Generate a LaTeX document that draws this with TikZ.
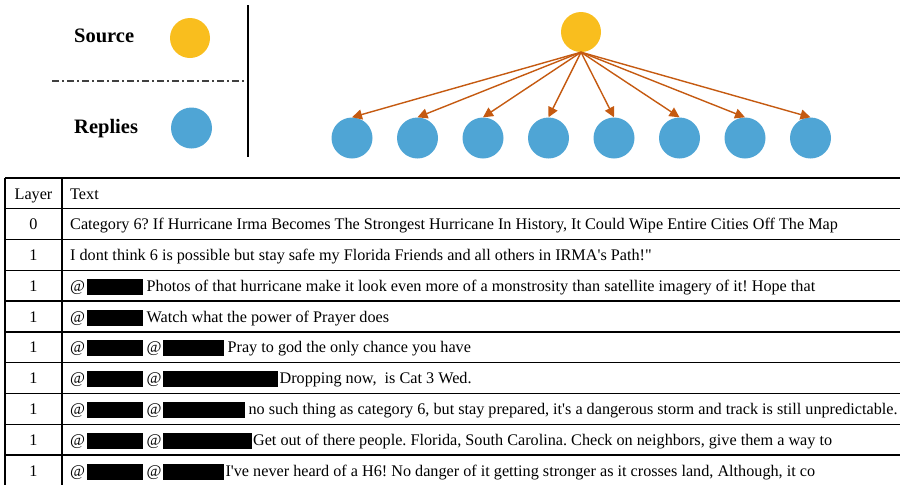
\documentclass[tikz,border=0pt]{standalone}
\usepackage{fontspec}
\setmainfont{Liberation Serif}[Ligatures=TeXOff]
\usetikzlibrary{arrows.meta}
\definecolor{srcyellow}{HTML}{F9BE1E}
\definecolor{repblue}{HTML}{4FA5D5}
\definecolor{arrorange}{HTML}{C55A11}
\definecolor{dashgray}{HTML}{404040}
\newcommand{\redact}[1]{\rule[-3.5pt]{#1pt}{16pt}}
\frenchspacing
\begin{document}
\begin{tikzpicture}[x=1pt,y=-1pt,
  srcdot/.style={circle, fill=srcyellow, minimum size=40pt, inner sep=0pt},
  repdot/.style={circle, fill=repblue, minimum size=41pt, inner sep=0pt},
  legendtext/.style={font=\fontsize{20.5}{24}\selectfont\bfseries, anchor=base west, inner sep=0pt},
  celltext/.style={font=\fontsize{16.2}{19}\selectfont\frenchspacing, anchor=base west, inner sep=0pt},
  layertext/.style={font=\fontsize{16.2}{19}\selectfont, anchor=base, inner sep=0pt},
  reparrow/.style={draw=arrorange, line width=1.4pt, -{Triangle[length=10pt,width=10pt]}},
  tablerule/.style={line width=1.3pt, black},
]
\useasboundingbox (0,0) rectangle (900,485);

% ---- legend ----
\node[legendtext] (srclabel) at (74,42) {Source};
\node[legendtext] (replabel) at (74,133.5) {Replies};
\node[srcdot] (legsrc) at (190,38) {};
\node[repdot] (legrep) at (191.5,128) {};
\coordinate (dashL) at (52,81);
\coordinate (dashR) at (248,81);
\draw[dashgray, line width=1.2pt, dash pattern=on 7pt off 3pt on 2pt off 3pt] (dashL) -- (dashR);
\coordinate (sepT) at (248,5);
\coordinate (sepB) at (248,157);
\draw[black, line width=1.5pt] (sepT) -- (sepB);

% ---- tree ----
\node[srcdot] (src) at (581,32) {};
\foreach \i/\x in {1/352,2/417.5,3/483,4/548.5,5/614,6/679.5,7/745,8/810.5}{
  \node[repdot] (r\i) at (\x,138) {};
  \draw[reparrow] (src.south) -- (r\i.north);
}

% ---- table ----
\foreach \k in {0,...,9}{
  \draw[tablerule] (5,{178+30.78*\k}) -- (900,{178+30.78*\k});
}
\draw[tablerule] (5,178) -- (5,485);
\draw[tablerule] (62,178) -- (62,485);

\node[layertext] (hL) at (33.5,199) {Layer};
\node[celltext] (hT) at (70,199) {Text};

\node[layertext] (l0) at (33.5,229.8) {0};
\node[celltext] (t0) at (70,229.8) {Category 6? If Hurricane Irma Becomes The Strongest Hurricane In History, It Could Wipe Entire Cities Off The Map};

\node[layertext] (l1) at (33.5,260.6) {1};
\node[celltext] (t1) at (70,260.6) {I dont think 6 is possible but stay safe my Florida Friends and all others in IRMA's Path!"};

\node[layertext] (l2) at (33.5,291.3) {1};
\node[celltext] (t2) at (70,291.3) {@\hspace{1.5pt}\redact{56} Photos of that hurricane make it look even more of a monstrosity than satellite imagery of it! Hope that};

\node[layertext] (l3) at (33.5,322.1) {1};
\node[celltext] (t3) at (70,322.1) {@\hspace{1.5pt}\redact{56} Watch what the power of Prayer does};

\node[layertext] (l4) at (33.5,352.9) {1};
\node[celltext] (t4) at (70,352.9) {@\hspace{1.5pt}\redact{56} @\hspace{1pt}\redact{61} Pray to god the only chance you have};

\node[layertext] (l5) at (33.5,383.7) {1};
\node[celltext] (t5) at (70,383.7) {@\hspace{1.5pt}\redact{56} @\hspace{1pt}\redact{115}\hspace{2pt}Dropping now,\ \ is Cat 3 Wed.};

\node[layertext] (l6) at (33.5,414.5) {1};
\node[celltext] (t6) at (70,414.5) {@\hspace{1.5pt}\redact{56} @\hspace{1pt}\redact{82} no such thing as category 6, but stay prepared, it's a dangerous storm and track is still unpredictable.};

\node[layertext] (l7) at (33.5,445.2) {1};
\node[celltext] (t7) at (70,445.2) {@\hspace{1.5pt}\redact{56} @\hspace{1pt}\redact{89}\hspace{1.5pt}Get out of there people. Florida, South Carolina. Check on neighbors, give them a way to};

\node[layertext] (l8) at (33.5,476) {1};
\node[celltext] (t8) at (70,476) {@\hspace{1.5pt}\redact{56} @\hspace{1pt}\redact{61}\hspace{2pt}I've never heard of a H6! No danger of it getting stronger as it crosses land, Although, it co};
\end{tikzpicture}
\end{document}
